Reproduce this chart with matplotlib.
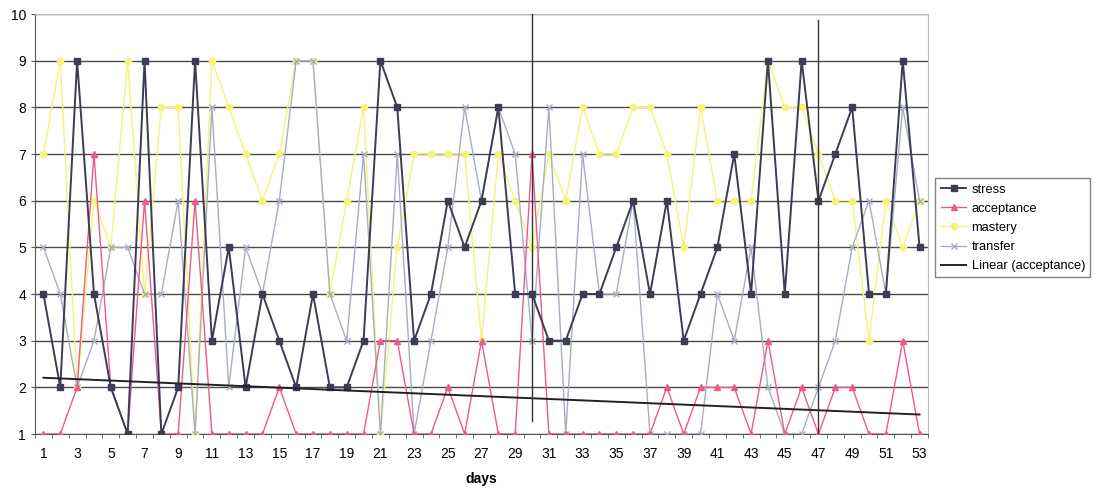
import numpy as np
import matplotlib
matplotlib.use('Agg')
import matplotlib.pyplot as plt

plt.rcParams['font.family'] = ['Liberation Sans', 'DejaVu Sans']
plt.rcParams['font.size'] = 10

days = list(range(1, 54))
stress = [4, 2, 9, 4, 2, 1, 9, 1, 2, 9, 3, 5, 2, 4, 3, 2, 4, 2, 2, 3,
          9, 8, 3, 4, 6, 5, 6, 8, 4, 4, 3, 3, 4, 4, 5, 6, 4, 6, 3, 4,
          5, 7, 4, 9, 4, 9, 6, 7, 8, 4, 4, 9, 5]
acceptance = [1, 1, 2, 7, 2, 1, 6, 1, 1, 6, 1, 1, 1, 1, 2, 1, 1, 1, 1, 1,
              3, 3, 1, 1, 2, 1, 3, 1, 1, 7, 1, 1, 1, 1, 1, 1, 1, 2, 1, 2,
              2, 2, 1, 3, 1, 2, 1, 2, 2, 1, 1, 3, 1]
mastery = [7, 9, 2, 6, 5, 9, 4, 8, 8, 1, 9, 8, 7, 6, 7, 9, 9, 4, 6, 8,
           1, 5, 7, 7, 7, 7, 3, 7, 6, 5, 7, 6, 8, 7, 7, 8, 8, 7, 5, 8,
           6, 6, 6, 9, 8, 8, 7, 6, 6, 3, 6, 5, 6]
transfer = [5, 4, 2, 3, 5, 5, 4, 4, 6, 1, 8, 2, 5, 4, 6, 9, 9, 4, 3, 7,
            1, 7, 1, 3, 5, 8, 6, 8, 7, 3, 8, 1, 7, 4, 4, 6, 1, 1, 1, 1,
            4, 3, 5, 2, 1, 1, 2, 3, 5, 6, 4, 8, 6]
phase_marks = [30, 47]
x_tick_labels = [str(d) for d in days if d % 2 == 1]

fig = plt.figure(figsize=(10.98, 4.91), dpi=100)
ax = fig.add_axes([35 / 1098, 1 - 434 / 491, 893 / 1098, 420 / 491])

ax.plot(days, stress, color='#3c3c55', lw=1.4, marker='s', ms=4.5, label='stress', zorder=5)
ax.plot(days, acceptance, color='#ec5a8a', lw=1.0, marker='^', ms=4.5, label='acceptance', zorder=4)
ax.plot(days, mastery, color='#f4f47a', lw=1.0, marker='o', ms=4.5, label='mastery', zorder=3)
ax.plot(days, transfer, color='#a6aec4', lw=1.0, marker='x', ms=4.5, mew=1.0, label='transfer', zorder=3)

# linear trend of acceptance
coef = np.polyfit(days, acceptance, 1)
ax.plot([days[0], days[-1]], np.polyval(coef, [days[0], days[-1]]), color='#222222', lw=1.4,
        label='Linear (acceptance)', zorder=6)

# hand drawn phase separators
ax.axvline(phase_marks[0], ymin=0.03, ymax=1.0, color='#333333', lw=1.0, zorder=7)
ax.axvline(phase_marks[1], ymin=-0.005, ymax=0.985, color='#333333', lw=1.0, zorder=7)

ax.set_xlim(0.5, 53.5)
ax.set_ylim(1, 10)
ax.set_yticks(range(1, 11))
ax.set_xticks([d for d in days if d % 2 == 1])
ax.set_xticklabels(x_tick_labels)
ax.set_xticks(np.arange(0.5, 54, 1), minor=True)
ax.tick_params(axis='x', which='major', length=0, pad=9)
ax.tick_params(axis='x', which='minor', length=3, color='#555555')
ax.tick_params(axis='y', length=3, color='#555555')
ax.grid(axis='y', color='#4a4a4a', lw=1.0)
ax.set_axisbelow(True)
ax.set_xlabel('days', fontweight='bold', labelpad=8)

for s in ['top', 'right']:
    ax.spines[s].set_color('#bbbbbb')
for s in ['left', 'bottom']:
    ax.spines[s].set_color('#555555')

fig.legend(loc='upper left', bbox_to_anchor=(929 / 1098, 1 - 172 / 491), frameon=True,
           fancybox=False, edgecolor='#666666', fontsize=9.3, handlelength=2.0,
           borderpad=0.4, labelspacing=0.55, handletextpad=0.4)

fig.savefig('out.png', dpi=100)
